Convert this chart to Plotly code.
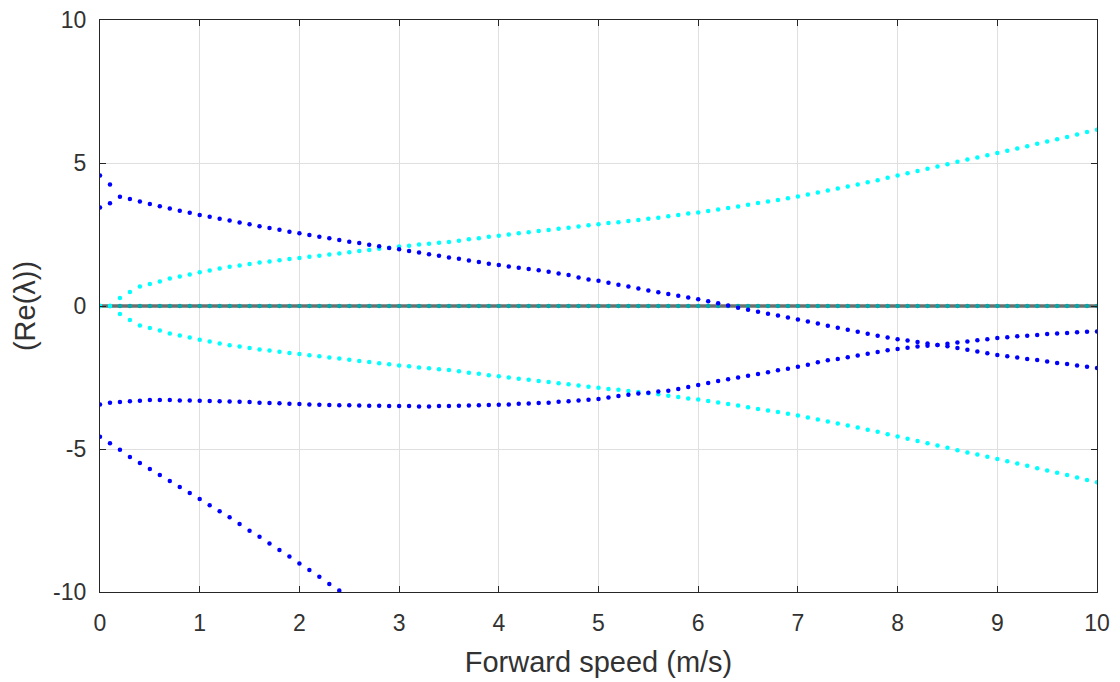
import plotly.graph_objects as go

# Forward speed samples (m/s)
speed = [0.0, 0.1, 0.2, 0.3, 0.4, 0.5, 0.6, 0.7, 0.8, 0.9,
         1.0, 1.1, 1.2, 1.3, 1.4, 1.5, 1.6, 1.7, 1.8, 1.9,
         2.0, 2.1, 2.2, 2.3, 2.4, 2.5, 2.6, 2.7, 2.8, 2.9,
         3.0, 3.1, 3.2, 3.3, 3.4, 3.5, 3.6, 3.7, 3.8, 3.9,
         4.0, 4.1, 4.2, 4.3, 4.4, 4.5, 4.6, 4.7, 4.8, 4.9,
         5.0, 5.1, 5.2, 5.3, 5.4, 5.5, 5.6, 5.7, 5.8, 5.9,
         6.0, 6.1, 6.2, 6.3, 6.4, 6.5, 6.6, 6.7, 6.8, 6.9,
         7.0, 7.1, 7.2, 7.3, 7.4, 7.5, 7.6, 7.7, 7.8, 7.9,
         8.0, 8.1, 8.2, 8.3, 8.4, 8.5, 8.6, 8.7, 8.8, 8.9,
         9.0, 9.1, 9.2, 9.3, 9.4, 9.5, 9.6, 9.7, 9.8, 9.9, 10.0]

# Blue: upper mode (descending), full range
blue_upper = [3.44, 3.59, 3.82, 3.74, 3.65, 3.57, 3.49, 3.41, 3.33, 3.26,
              3.18, 3.12, 3.05, 2.99, 2.92, 2.86, 2.79, 2.73, 2.67, 2.60,
              2.54, 2.48, 2.42, 2.37, 2.31, 2.25, 2.20, 2.14, 2.09, 2.03,
              1.98, 1.92, 1.87, 1.81, 1.76, 1.70, 1.65, 1.59, 1.54, 1.48,
              1.43, 1.38, 1.34, 1.29, 1.25, 1.20, 1.14, 1.08, 1.00, 0.93,
              0.88, 0.81, 0.74, 0.68, 0.61, 0.54, 0.48, 0.42, 0.36, 0.30,
              0.24, 0.17, 0.10, 0.02, -0.06, -0.13, -0.20, -0.27, -0.33, -0.40,
              -0.47, -0.54, -0.61, -0.69, -0.76, -0.83, -0.90, -0.97, -1.04, -1.10,
              -1.16, -1.21, -1.26, -1.31, -1.36, -1.41, -1.47, -1.53, -1.59, -1.65,
              -1.71, -1.76, -1.80, -1.85, -1.89, -1.94, -1.99, -2.03, -2.08, -2.12, -2.17]

# Blue: second branch of upper pair before it merges
blue_branch_x = [0.0, 0.1]
blue_branch = [4.56, 4.25]

# Blue: lower mode (flat then rising)
blue_lower = [-3.44, -3.38, -3.36, -3.33, -3.31, -3.29, -3.29, -3.29, -3.30, -3.30,
              -3.31, -3.32, -3.33, -3.34, -3.35, -3.36, -3.38, -3.39, -3.40, -3.42,
              -3.43, -3.44, -3.45, -3.46, -3.47, -3.47, -3.48, -3.49, -3.49, -3.50,
              -3.50, -3.50, -3.51, -3.51, -3.50, -3.50, -3.49, -3.48, -3.47, -3.46,
              -3.45, -3.44, -3.42, -3.41, -3.39, -3.38, -3.35, -3.33, -3.30, -3.28,
              -3.25, -3.20, -3.15, -3.10, -3.06, -3.03, -2.99, -2.96, -2.90, -2.83,
              -2.76, -2.69, -2.62, -2.56, -2.50, -2.44, -2.38, -2.32, -2.25, -2.19,
              -2.12, -2.05, -1.97, -1.90, -1.85, -1.79, -1.73, -1.67, -1.61, -1.55,
              -1.50, -1.46, -1.42, -1.39, -1.36, -1.32, -1.28, -1.24, -1.20, -1.16,
              -1.12, -1.09, -1.06, -1.04, -1.01, -0.98, -0.96, -0.94, -0.92, -0.90, -0.89]

# Blue: steep mode (leaves the plot at about 2.4 m/s)
steep_x = [0.0, 0.1, 0.2, 0.3, 0.4, 0.5, 0.6, 0.7, 0.8, 0.9,
           1.0, 1.1, 1.2, 1.3, 1.4, 1.5, 1.6, 1.7, 1.8, 1.9,
           2.0, 2.1, 2.2, 2.3, 2.4, 2.5]
blue_steep = [-4.57, -4.80, -5.03, -5.28, -5.49, -5.70, -5.91, -6.12, -6.33, -6.54,
              -6.75, -6.97, -7.18, -7.39, -7.62, -7.86, -8.07, -8.30, -8.53, -8.76,
              -9.00, -9.23, -9.47, -9.72, -9.95, -10.19]

# Cyan: symmetric pair
cyan_upper = [0.00, 0.00, 0.28, 0.49, 0.68, 0.77, 0.86, 0.96, 1.03, 1.10,
              1.18, 1.24, 1.31, 1.37, 1.42, 1.47, 1.52, 1.56, 1.60, 1.64,
              1.68, 1.72, 1.76, 1.80, 1.84, 1.88, 1.92, 1.96, 2.00, 2.04,
              2.08, 2.11, 2.15, 2.18, 2.21, 2.24, 2.28, 2.33, 2.37, 2.42,
              2.46, 2.50, 2.54, 2.58, 2.62, 2.66, 2.70, 2.74, 2.78, 2.82,
              2.86, 2.90, 2.93, 2.97, 3.01, 3.05, 3.09, 3.14, 3.18, 3.23,
              3.27, 3.32, 3.37, 3.43, 3.48, 3.54, 3.60, 3.65, 3.71, 3.77,
              3.83, 3.90, 3.97, 4.04, 4.11, 4.18, 4.25, 4.33, 4.40, 4.48,
              4.56, 4.64, 4.72, 4.80, 4.88, 4.96, 5.04, 5.12, 5.19, 5.27,
              5.35, 5.43, 5.51, 5.59, 5.67, 5.75, 5.83, 5.91, 6.00, 6.08, 6.16]
cyan_lower = [0.00, 0.00, -0.28, -0.49, -0.68, -0.77, -0.86, -0.96, -1.03, -1.10,
              -1.18, -1.24, -1.31, -1.37, -1.42, -1.47, -1.52, -1.56, -1.60, -1.64,
              -1.68, -1.72, -1.76, -1.80, -1.84, -1.88, -1.92, -1.96, -2.00, -2.04,
              -2.08, -2.11, -2.15, -2.18, -2.21, -2.24, -2.28, -2.33, -2.37, -2.42,
              -2.46, -2.50, -2.54, -2.58, -2.62, -2.66, -2.70, -2.74, -2.78, -2.82,
              -2.86, -2.90, -2.93, -2.97, -3.01, -3.05, -3.09, -3.14, -3.18, -3.23,
              -3.27, -3.32, -3.37, -3.43, -3.48, -3.54, -3.60, -3.65, -3.71, -3.77,
              -3.83, -3.90, -3.97, -4.04, -4.11, -4.18, -4.25, -4.33, -4.40, -4.48,
              -4.56, -4.64, -4.72, -4.80, -4.88, -4.96, -5.04, -5.12, -5.19, -5.27,
              -5.35, -5.43, -5.51, -5.59, -5.67, -5.75, -5.83, -5.91, -6.00, -6.08, -6.16]

# Zero real-part modes
zero_modes = [0.0] * len(speed)

x_ticks = [0, 1, 2, 3, 4, 5, 6, 7, 8, 9, 10]
x_tick_text = ["0", "1", "2", "3", "4", "5", "6", "7", "8", "9", "10"]
y_ticks = [-10, -5, 0, 5, 10]
y_tick_text = ["-10", "-5", "0", "5", "10"]

BLUE = "rgb(0,0,255)"
CYAN = "rgb(0,255,255)"
MS = 4.5
FONT = "Liberation Sans, Arial, sans-serif"
TXT = "rgb(38,38,38)"

fig = go.Figure()

# zero line drawn as a thick gray line with teal dots
fig.add_trace(go.Scatter(x=speed, y=zero_modes, mode="lines",
                         line=dict(color="rgb(110,110,110)", width=3.5),
                         hoverinfo="skip", showlegend=False))
fig.add_trace(go.Scatter(x=speed, y=zero_modes, mode="markers",
                         marker=dict(color="rgb(0,170,170)", size=MS),
                         showlegend=False))

for ys in (cyan_upper, cyan_lower):
    fig.add_trace(go.Scatter(x=speed, y=ys, mode="markers",
                             marker=dict(color=CYAN, size=MS), showlegend=False))

fig.add_trace(go.Scatter(x=speed, y=blue_upper, mode="markers",
                         marker=dict(color=BLUE, size=MS), showlegend=False))
fig.add_trace(go.Scatter(x=blue_branch_x, y=blue_branch, mode="markers",
                         marker=dict(color=BLUE, size=MS), showlegend=False))
fig.add_trace(go.Scatter(x=speed, y=blue_lower, mode="markers",
                         marker=dict(color=BLUE, size=MS), showlegend=False))
fig.add_trace(go.Scatter(x=steep_x, y=blue_steep, mode="markers",
                         marker=dict(color=BLUE, size=MS), showlegend=False))

axis_common = dict(
    showline=True, mirror="ticks", linecolor=TXT, linewidth=1.3,
    ticks="inside", ticklen=6, tickcolor=TXT, tickwidth=1.3,
    showgrid=True, gridcolor="rgb(223,223,223)", gridwidth=1,
    zeroline=False,
    tickfont=dict(family=FONT, size=23, color="rgb(50,50,50)"),
)

fig.update_xaxes(range=[0, 10], tickvals=x_ticks, ticktext=x_tick_text, ticklabelstandoff=10,
                 title=dict(text="Forward speed (m/s)", standoff=16,
                            font=dict(family=FONT, size=29, color="rgb(50,50,50)")),
                 **axis_common)
fig.update_yaxes(range=[-10, 10], tickvals=y_ticks, ticktext=y_tick_text, ticklabelstandoff=8,
                 title=dict(text="(Re(λ))", standoff=8,
                            font=dict(family=FONT, size=29, color="rgb(50,50,50)")),
                 **axis_common)

fig.update_layout(
    width=1120, height=682,
    margin=dict(l=100, r=23, t=20, b=90, autoexpand=False),
    paper_bgcolor="white", plot_bgcolor="white",
    showlegend=False,
)

fig.write_html("out.html")
